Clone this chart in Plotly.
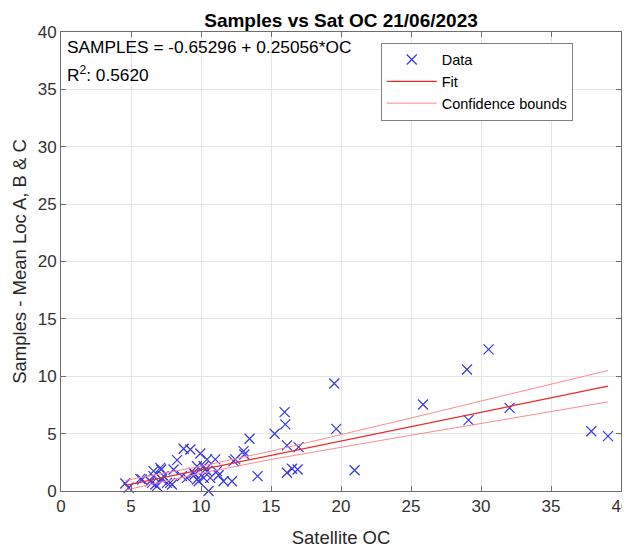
import plotly.graph_objects as go

# Data
sat_oc = [4.59, 4.83, 5.66, 5.79, 6.38, 6.5, 6.61, 6.6, 6.74, 6.86, 7.09, 7.15, 7.21, 7.33,
          7.57, 7.8, 7.93, 8.04, 8.29, 8.64, 8.76, 9.0, 9.24, 9.47, 9.55, 9.71, 9.71, 9.83,
          9.95, 10.19, 10.19, 10.31, 10.43, 10.43, 10.54, 10.66, 11.02, 11.14, 11.26, 11.61,
          12.21, 12.33, 12.45, 13.04, 13.1, 13.47, 14.04,
          15.26, 15.97, 16.02, 16.14, 16.97, 16.14, 16.5, 16.9, 19.52, 19.66, 20.97,
          25.86, 29.0, 30.54, 29.11, 32.04, 37.88, 39.07]
samples = [0.65, 0.28, 1.06, 1.0, 0.85, 0.71, 1.73, 1.29, 0.57, 0.42, 2.02, 1.87, 1.0, 1.29,
           0.71, 0.71, 0.57, 1.87, 2.69, 1.29, 3.68, 1.15, 3.62, 1.59, 1.44, 1.0, 2.16, 0.85,
           3.27, 2.16, 1.15, 1.87, 1.73, 2.75, 0.0, 1.15, 2.75, 1.73, 1.37, 0.85,
           0.85, 2.6, 2.75, 3.47, 3.18, 4.55, 1.29,
           4.99, 6.87, 5.8, 3.97, 3.82, 1.59, 1.94, 1.87, 9.37, 5.42, 1.81,
           7.54, 10.59, 12.34, 6.17, 7.25, 5.21, 4.78]

fit_intercept = -0.65296
fit_slope = 0.25056

bound_x = [4.59, 10, 15, 20, 25, 30, 35, 39.07]
bound_upper = [0.92, 2.16, 3.47, 4.89, 6.36, 7.84, 9.32, 10.50]
bound_lower = [0.08, 1.54, 2.75, 3.83, 4.86, 5.88, 6.92, 7.77]

fit_x = [min(sat_oc), max(sat_oc)]
fit_y = [fit_intercept + fit_slope * v for v in fit_x]

BLUE = "rgb(55,55,230)"
fig = go.Figure()
fig.add_trace(go.Scatter(x=sat_oc, y=samples, mode="markers", name="Data",
                         marker=dict(symbol="x-thin-open", size=10, color=BLUE,
                                     line=dict(width=1.2, color=BLUE)),
                         cliponaxis=False))
fig.add_trace(go.Scatter(x=fit_x, y=fit_y, mode="lines", name="Fit",
                         line=dict(color="rgb(235,40,40)", width=1.2)))
fig.add_trace(go.Scatter(x=bound_x, y=bound_upper, mode="lines", name="Confidence bounds",
                         line=dict(color="rgb(255,140,140)", width=1)))
fig.add_trace(go.Scatter(x=bound_x, y=bound_lower, mode="lines", name="Confidence bounds",
                         showlegend=False, line=dict(color="rgb(255,140,140)", width=1)))

axis_common = dict(showgrid=True, gridcolor="rgb(228,228,228)", gridwidth=1,
                   showline=True, linecolor="rgb(110,110,110)", linewidth=1, mirror="ticks",
                   ticks="inside", ticklen=5, tickcolor="rgb(110,110,110)",
                   zeroline=False, automargin=False, ticklabeloverflow="allow",
                   tickfont=dict(size=17, color="rgb(50,50,50)"),
                   title_font=dict(size=18.5, color="rgb(40,40,40)"))

fig.update_xaxes(range=[0, 40], dtick=5, title_text="Satellite OC", title_standoff=15,
                 **axis_common)
fig.update_yaxes(range=[0, 40], dtick=5, title_text="Samples - Mean Loc A, B & C",
                 title_standoff=6, **axis_common)

fig.add_annotation(xref="paper", yref="paper", x=0.0, y=1.0, xanchor="left", yanchor="middle",
                   xshift=4, yshift=-15, align="left", showarrow=False,
                   text="SAMPLES = -0.65296 + 0.25056*OC",
                   font=dict(size=17.3, color="black"))
fig.add_annotation(xref="paper", yref="paper", x=0.0, y=1.0, xanchor="left", yanchor="middle",
                   xshift=4, yshift=-42, align="left", showarrow=False,
                   text="R<sup>2</sup>: 0.5620",
                   font=dict(size=17.3, color="black"))

fig.update_layout(
    width=622, height=540,
    margin=dict(l=53, r=9, t=24, b=57),
    paper_bgcolor="white", plot_bgcolor="white",
    font=dict(family="Liberation Sans, Arial, sans-serif", color="black"),
    title=dict(text="<b>Samples vs Sat OC 21/06/2023</b>", x=0.5, xref="paper",
               xanchor="center", yref="container", y=0.978, yanchor="middle",
               font=dict(size=19, color="black")),
    legend=dict(x=0.571, y=0.977, xanchor="left", yanchor="top",
                bordercolor="rgb(130,130,130)", borderwidth=1, bgcolor="white",
                font=dict(size=14.5, color="black"), tracegroupgap=0, itemwidth=50),
    showlegend=True,
)

fig.write_html("out.html")
